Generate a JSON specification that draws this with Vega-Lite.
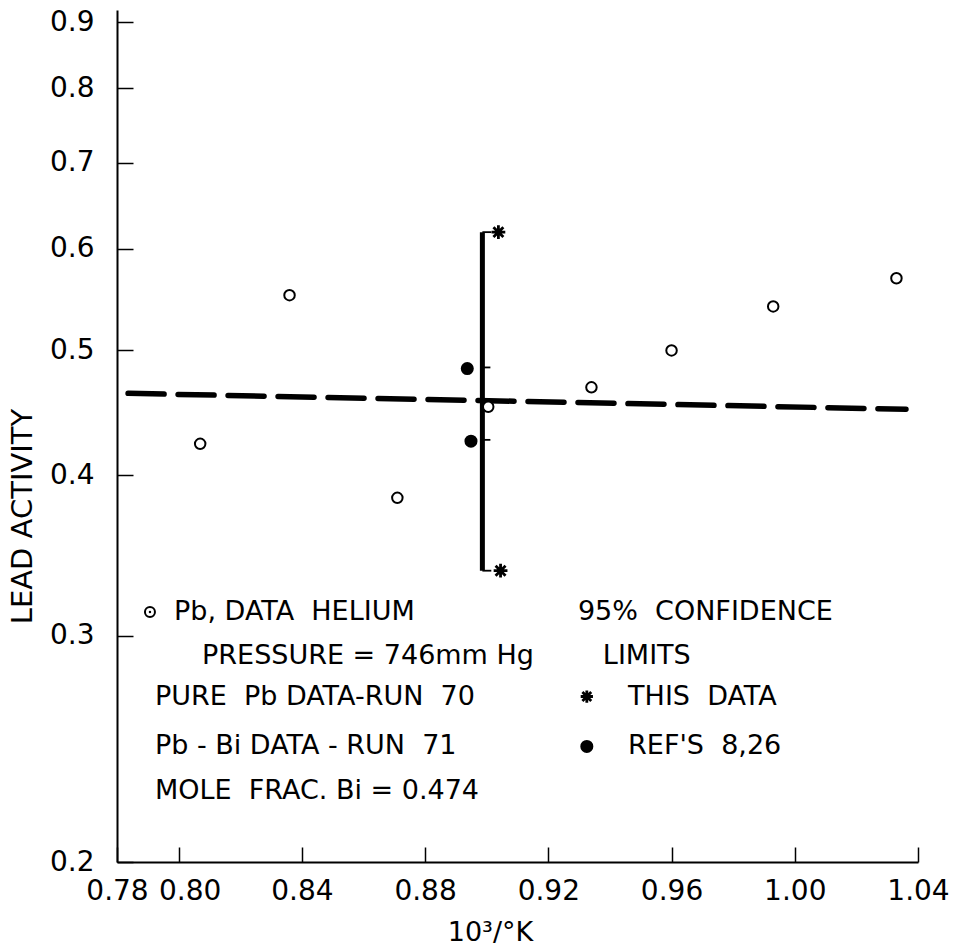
{
  "$schema": "https://vega.github.io/schema/vega-lite/v6.json",
  "width": 801,
  "height": 852,
  "autosize": {"type": "none"},
  "padding": {"left": 117, "top": 10, "right": 38, "bottom": 90},
  "background": "white",
  "config": {
    "view": {"stroke": null},
    "font": "DejaVu Sans",
    "axis": {
      "domainColor": "black", "domainWidth": 2, "tickColor": "black", "tickWidth": 1.5,
      "grid": false, "labelColor": "black", "titleColor": "black",
      "labelFont": "DejaVu Sans", "titleFont": "DejaVu Sans",
      "labelFontSize": 28, "titleFontSize": 29, "titleFontWeight": "normal",
      "labelOverlap": false, "labelFlush": false, "labelBound": false
    }
  },
  "datasets": {
    "helium": [
      {"x": 0.807, "y": 0.423},
      {"x": 0.836, "y": 0.552},
      {"x": 0.871, "y": 0.384},
      {"x": 0.9005, "y": 0.452},
      {"x": 0.934, "y": 0.468},
      {"x": 0.960, "y": 0.500},
      {"x": 0.993, "y": 0.541},
      {"x": 1.033, "y": 0.569}
    ],
    "refs": [
      {"x": 0.8937, "y": 0.484},
      {"x": 0.8949, "y": 0.425}
    ],
    "bar": [
      {"x": 0.8986, "ylo": 0.337, "yhi": 0.618}
    ],
    "ticks": [
      {"x": 0.8986, "x2": 0.9015, "y": 0.618},
      {"x": 0.8986, "x2": 0.9012, "y": 0.485},
      {"x": 0.8986, "x2": 0.9012, "y": 0.426},
      {"x": 0.8986, "x2": 0.9015, "y": 0.337}
    ],
    "stars": [
      {"x": 0.9038, "y": 0.618},
      {"x": 0.9045, "y": 0.337}
    ],
    "fit": [
      {"x": 0.7836, "y": 0.463},
      {"x": 1.0361, "y": 0.450}
    ],
    "one": [{}]
  },
  "layer": [
    {
      "data": {"name": "fit"},
      "mark": {"type": "line", "color": "black", "strokeWidth": 5.5, "strokeDash": [36, 14], "strokeCap": "round"},
      "encoding": {
        "x": {"field": "x", "type": "quantitative", "scale": {"domain": [0.78, 1.04], "nice": false, "zero": false},
          "axis": {"values": [0.78, 0.80, 0.84, 0.88, 0.92, 0.96, 1.00, 1.04], "format": ".2f", "tickSize": -15,
            "labelPadding": 30, "labelOffset": {"condition": {"test": "datum.value == 0.8", "value": 11}, "value": 0},
            "title": "10³/°K", "titleFontSize": 27, "titleX": 373, "titleY": 70, "titleBaseline": "middle", "titleAnchor": null, "titleAlign": "center"}},
        "y": {"field": "y", "type": "quantitative", "scale": {"type": "log", "domain": [0.2, 0.92], "nice": false, "zero": false},
          "axis": {"values": [0.2, 0.3, 0.4, 0.5, 0.6, 0.7, 0.8, 0.9], "format": ".1f", "tickSize": -16,
            "labelPadding": 39, "title": "LEAD ACTIVITY", "titleX": -95, "titleY": 506, "titleAngle": -90,
            "titleBaseline": "middle", "titleAlign": "center", "titleAnchor": null}}
      }
    },
    {
      "data": {"name": "bar"},
      "mark": {"type": "rule", "color": "black", "strokeWidth": 5},
      "encoding": {
        "x": {"field": "x", "type": "quantitative"},
        "y": {"field": "ylo", "type": "quantitative"},
        "y2": {"field": "yhi"}
      }
    },
    {
      "data": {"name": "ticks"},
      "mark": {"type": "rule", "color": "black", "strokeWidth": 1.8},
      "encoding": {
        "x": {"field": "x", "type": "quantitative"},
        "x2": {"field": "x2"},
        "y": {"field": "y", "type": "quantitative"}
      }
    },
    {
      "data": {"name": "stars"},
      "mark": {"type": "point", "shape": "M-1,0L1,0M0,-1L0,1M-0.72,-0.72L0.72,0.72M-0.72,0.72L0.72,-0.72", "size": 190, "stroke": "black", "strokeWidth": 2.8, "filled": false, "opacity": 1},
      "encoding": {
        "x": {"field": "x", "type": "quantitative"},
        "y": {"field": "y", "type": "quantitative"}
      }
    },
    {
      "data": {"name": "helium"},
      "mark": {"type": "point", "shape": "circle", "size": 110, "stroke": "black", "strokeWidth": 2, "fill": "white", "filled": true, "opacity": 1, "strokeOpacity": 1, "fillOpacity": 1},
      "encoding": {
        "x": {"field": "x", "type": "quantitative"},
        "y": {"field": "y", "type": "quantitative"}
      }
    },
    {
      "data": {"name": "refs"},
      "mark": {"type": "point", "shape": "circle", "size": 170, "color": "black", "filled": true, "opacity": 1},
      "encoding": {
        "x": {"field": "x", "type": "quantitative"},
        "y": {"field": "y", "type": "quantitative"}
      }
    },
    {
      "data": {"name": "one"},
      "mark": {"type": "point", "shape": "circle", "size": 100, "stroke": "black", "strokeWidth": 2, "fill": "white", "filled": true, "opacity": 1},
      "encoding": {"x": {"datum": 0.7907}, "y": {"datum": 0.313}}
    },
    {
      "data": {"name": "one"},
      "mark": {"type": "point", "shape": "circle", "size": 6, "color": "black", "filled": true, "opacity": 1},
      "encoding": {"x": {"datum": 0.7907}, "y": {"datum": 0.313}}
    },
    {
      "data": {"name": "one"},
      "mark": {"type": "point", "shape": "M-1,0L1,0M0,-1L0,1M-0.72,-0.72L0.72,0.72M-0.72,0.72L0.72,-0.72", "size": 150, "stroke": "black", "strokeWidth": 2.8, "filled": false, "opacity": 1},
      "encoding": {"x": {"datum": 0.9325}, "y": {"datum": 0.269}}
    },
    {
      "data": {"name": "one"},
      "mark": {"type": "point", "shape": "circle", "size": 170, "color": "black", "filled": true, "opacity": 1},
      "encoding": {"x": {"datum": 0.9325}, "y": {"datum": 0.246}}
    },
    {
      "data": {"name": "one"},
      "mark": {"type": "text", "align": "left", "baseline": "middle", "fontSize": 27, "font": "DejaVu Sans", "color": "black"},
      "encoding": {"x": {"datum": 0.7985}, "y": {"datum": 0.313}, "text": {"value": "Pb,\u00a0DATA\u00a0\u00a0HELIUM"}}
    },
    {
      "data": {"name": "one"},
      "mark": {"type": "text", "align": "left", "baseline": "middle", "fontSize": 27, "font": "DejaVu Sans", "color": "black"},
      "encoding": {"x": {"datum": 0.8076}, "y": {"datum": 0.289}, "text": {"value": "PRESSURE = 746mm\u00a0Hg"}}
    },
    {
      "data": {"name": "one"},
      "mark": {"type": "text", "align": "left", "baseline": "middle", "fontSize": 27, "font": "DejaVu Sans", "color": "black"},
      "encoding": {"x": {"datum": 0.7923}, "y": {"datum": 0.269}, "text": {"value": "PURE\u00a0\u00a0Pb\u00a0DATA-RUN\u00a0\u00a070"}}
    },
    {
      "data": {"name": "one"},
      "mark": {"type": "text", "align": "left", "baseline": "middle", "fontSize": 27, "font": "DejaVu Sans", "color": "black"},
      "encoding": {"x": {"datum": 0.7923}, "y": {"datum": 0.246}, "text": {"value": "Pb - Bi\u00a0DATA - RUN\u00a0\u00a071"}}
    },
    {
      "data": {"name": "one"},
      "mark": {"type": "text", "align": "left", "baseline": "middle", "fontSize": 27, "font": "DejaVu Sans", "color": "black"},
      "encoding": {"x": {"datum": 0.7923}, "y": {"datum": 0.227}, "text": {"value": "MOLE\u00a0\u00a0FRAC. Bi = 0.474"}}
    },
    {
      "data": {"name": "one"},
      "mark": {"type": "text", "align": "left", "baseline": "middle", "fontSize": 27, "font": "DejaVu Sans", "color": "black"},
      "encoding": {"x": {"datum": 0.9296}, "y": {"datum": 0.313}, "text": {"value": "95%\u00a0\u00a0CONFIDENCE"}}
    },
    {
      "data": {"name": "one"},
      "mark": {"type": "text", "align": "left", "baseline": "middle", "fontSize": 27, "font": "DejaVu Sans", "color": "black"},
      "encoding": {"x": {"datum": 0.9377}, "y": {"datum": 0.289}, "text": {"value": "LIMITS"}}
    },
    {
      "data": {"name": "one"},
      "mark": {"type": "text", "align": "left", "baseline": "middle", "fontSize": 27, "font": "DejaVu Sans", "color": "black"},
      "encoding": {"x": {"datum": 0.9459}, "y": {"datum": 0.269}, "text": {"value": "THIS\u00a0\u00a0DATA"}}
    },
    {
      "data": {"name": "one"},
      "mark": {"type": "text", "align": "left", "baseline": "middle", "fontSize": 27, "font": "DejaVu Sans", "color": "black"},
      "encoding": {"x": {"datum": 0.9459}, "y": {"datum": 0.246}, "text": {"value": "REF'S\u00a0\u00a08,26"}}
    }
  ]
}
